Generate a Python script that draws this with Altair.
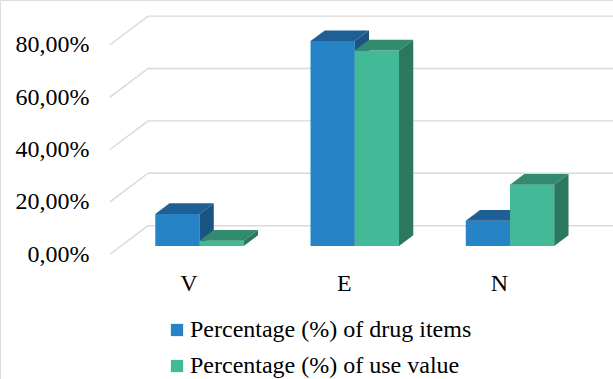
import altair as alt
import pandas as pd

# ---------------- data ----------------
categories = ["V", "E", "N"]
series_names = ["Percentage (%) of drug items", "Percentage (%) of use value"]
drug_items = [12.2, 78.2, 9.6]
use_value = [2.0, 74.6, 23.4]
tick_values = [0, 20, 40, 60, 80]

# ---------------- style ----------------
front_colors = ["#2683C6", "#42BA97"]
top_colors = ["#1E6096", "#328B6F"]
side_colors = ["#1A5483", "#2B7860"]
grid_color = "#D9D9D9"
FONT = "Times New Roman, Liberation Serif, Times, serif"

W, H = 613, 379
X_MIN, X_MAX = -1.2142, 2.7343     # category units
Y_MIN, Y_MAX = -47.6, 97.06        # percent units
DX, DY = 0.2448, 10.92             # oblique projection of full floor depth
Z_FRONT, Z_DEPTH = 0.29, 0.375     # bar position / thickness in depth
BAR_W = 0.285
FLOOR_X0 = -0.5056

xs = alt.Scale(domain=[X_MIN, X_MAX], nice=False, zero=False)
ys = alt.Scale(domain=[Y_MIN, Y_MAX], nice=False, zero=False)

label_list = "[" + ",".join("'%s'" % c for c in categories) + "]"
x_axis = alt.Axis(values=[0, 1, 2], labelExpr=label_list + "[round(datum.value)]",
                  orient="bottom", offset=-96, domain=False, ticks=False, grid=False,
                  labelPadding=0, labelBaseline="middle", labelAngle=0,
                  labelFont=FONT, labelFontSize=24, labelColor="black",
                  labelFlush=False, labelOverlap=False, title=None)
y_axis = alt.Axis(values=tick_values,
                  labelExpr="replace(format(datum.value, '.2f'), '.', ',') + '%'",
                  orient="left", offset=-89, domain=False, ticks=False, grid=False,
                  labelPadding=0, labelAlign="right", labelBaseline="middle",
                  labelFont=FONT, labelFontSize=24, labelColor="black",
                  labelOverlap=False, title=None)


def X(field):
    return alt.X(field, type="quantitative", scale=xs, axis=x_axis, title=None)


def Y(field):
    return alt.Y(field, type="quantitative", scale=ys, axis=y_axis, title=None, stack=None)


# ---------------- gridlines (back wall + floor diagonals) ----------------
grid_rows = []
for L in tick_values:
    grid_rows.append(dict(x=FLOOR_X0, y=L, x2=FLOOR_X0 + DX, y2=L + DY))
    grid_rows.append(dict(x=FLOOR_X0 + DX, y=L + DY, x2=X_MAX, y2=L + DY))
grid_df = pd.DataFrame(grid_rows)
grid = alt.Chart(grid_df).mark_rule(color=grid_color, strokeWidth=1.4).encode(
    x=X("x"), x2="x2", y=Y("y"), y2="y2")

layers = [grid]

dxb, dyb = Z_DEPTH * DX, Z_DEPTH * DY
y_base = Z_FRONT * DY
all_values = [drug_items, use_value]
for si, vals in enumerate(all_values):
    front_rows, top_rows, side_rows = [], [], []
    for ci, (cat, v) in enumerate(zip(categories, vals)):
        x0 = ci - BAR_W + si * BAR_W + Z_FRONT * DX
        x1 = x0 + BAR_W
        yt = v + y_base
        front_rows.append(dict(cat=cat, series=series_names[si], x0=x0, x1=x1, yb=y_base, yt=yt))
        top_rows += [
            dict(cat=cat, px=x0, ya=yt, yb=yt),
            dict(cat=cat, px=x0 + dxb, ya=yt + dyb, yb=yt),
            dict(cat=cat, px=x1, ya=yt + dyb, yb=yt),
            dict(cat=cat, px=x1 + dxb, ya=yt + dyb, yb=yt + dyb),
        ]
        side_rows += [
            dict(cat=cat, px=x1, ya=yt, yb=y_base),
            dict(cat=cat, px=x1 + dxb, ya=yt + dyb, yb=y_base + dyb),
        ]
    front = alt.Chart(pd.DataFrame(front_rows)).mark_rect(strokeWidth=0).encode(
        x=X("x0"), x2="x1", y=Y("yb"), y2="yt",
        color=alt.Color("series:N",
                        scale=alt.Scale(domain=series_names, range=front_colors),
                        legend=alt.Legend(orient="none", legendX=165, legendY=318,
                                          title=None, symbolType="square", symbolSize=150,
                                          symbolStrokeWidth=0, labelFont=FONT,
                                          labelFontSize=24, labelColor="black",
                                          labelOffset=1, rowPadding=12, padding=0,
                                          labelLimit=0)))
    top = alt.Chart(pd.DataFrame(top_rows)).mark_area(
        color=top_colors[si], strokeWidth=0, interpolate="linear").encode(
        x=X("px"), y=Y("ya"), y2="yb", detail="cat:N")
    side = alt.Chart(pd.DataFrame(side_rows)).mark_area(
        color=side_colors[si], strokeWidth=0, interpolate="linear").encode(
        x=X("px"), y=Y("ya"), y2="yb", detail="cat:N")
    layers += [front, top, side]

chart = alt.layer(*layers).properties(
    width=W, height=H,
    autosize=alt.AutoSizeParams(type="none"),
    padding=0,
).configure_view(stroke=None).configure(
    background="white", font=FONT
).configure_axis(
    labelFont=FONT, labelFontSize=24, labelColor="black"
).configure_legend(
    labelFont=FONT, labelFontSize=24, labelColor="black"
)

chart.save("out.html", embed_options={"renderer": "svg", "actions": False})
